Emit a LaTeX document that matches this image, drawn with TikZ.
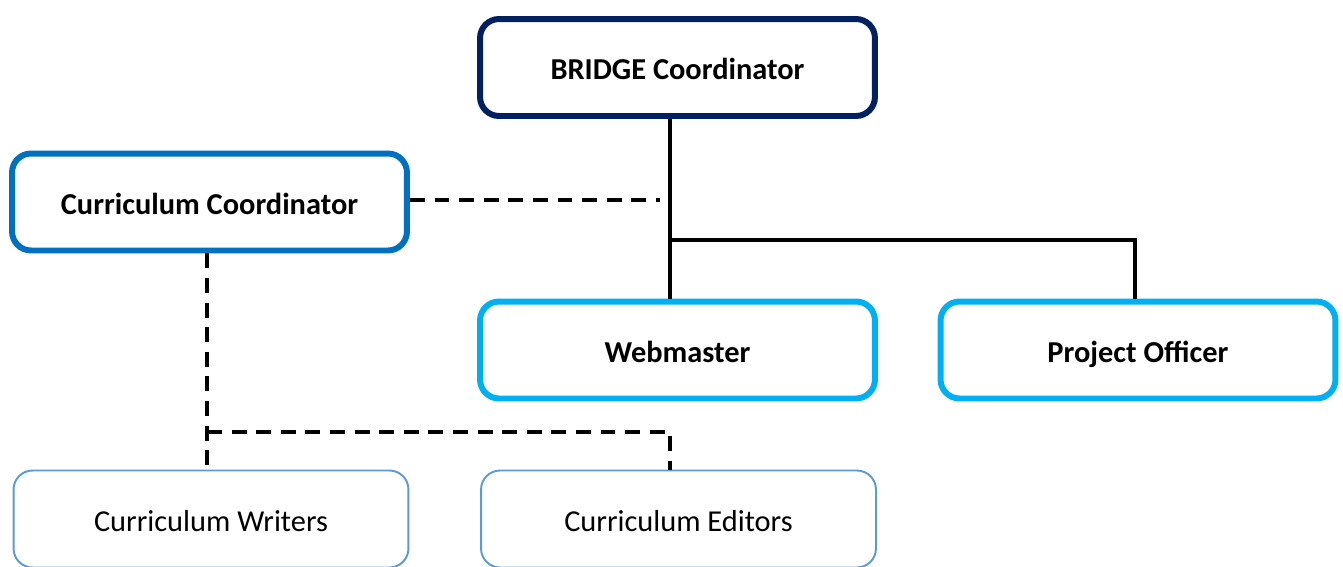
\documentclass[tikz,border=0pt]{standalone}
\usepackage{fontspec}
\setmainfont{Carlito}
\usetikzlibrary{positioning}
\definecolor{navyblue}{HTML}{002060}
\definecolor{midblue}{HTML}{0070C0}
\definecolor{skyblue}{HTML}{00B0F0}
\definecolor{paleblue}{HTML}{5B9BD5}
\tikzset{role/.style={draw, rounded corners=0.38cm, fill=white, minimum width=7.9cm, minimum height=1.94cm, inner sep=0pt, text height=14pt, text depth=0pt, font=\fontsize{17.3}{20}\selectfont\bfseries},
% heavy frames for the leading posts
lead/.style={role, draw=navyblue, line width=3.4pt},
coord/.style={role, draw=midblue, line width=3.4pt},
staff/.style={role, draw=skyblue, line width=3.4pt},
% light frames for the writing team
team/.style={role, draw=paleblue, line width=1.1pt, font=\fontsize{17.3}{20}\selectfont},
solidline/.style={draw=black, line width=2pt},
dashline/.style={draw=black, line width=2pt, dash pattern=on 8.5pt off 5.5pt}}

\begin{document}
\begin{tikzpicture}[x=0.02cm,y=-0.02cm]

    \useasboundingbox (0,0) rectangle (1343,566);

    \coordinate (j1) at (670,240);
    \coordinate (dashend) at (660,200);
    \coordinate (split) at (207,432);

    \node[lead]  (bridge)  at (677.5,67.5) {BRIDGE Coordinator};
    \node[coord] (cc)      at (209.5,202)  {Curriculum Coordinator};
    \node[staff] (web)     at (677.5,350)  {Webmaster};
    \node[staff] (po)      at (1138,350)   {Project Officer};
    \node[team]  (writers) at (211,519)    {Curriculum Writers};
    \node[team]  (editors) at (678.5,519)  {Curriculum Editors};


    \draw[solidline] (bridge.south -| j1) -- (web.north -| j1);
    \draw[solidline] (j1) -| (po.north -| 1135,0);


    \draw[dashline] (cc.east |- dashend) -- (dashend);
    \draw[dashline] (cc.south -| split) -- (split) -- (writers.north -| split);
    \draw[dashline] (split) -| (editors.north -| j1);

  \end{tikzpicture}
\end{document}
